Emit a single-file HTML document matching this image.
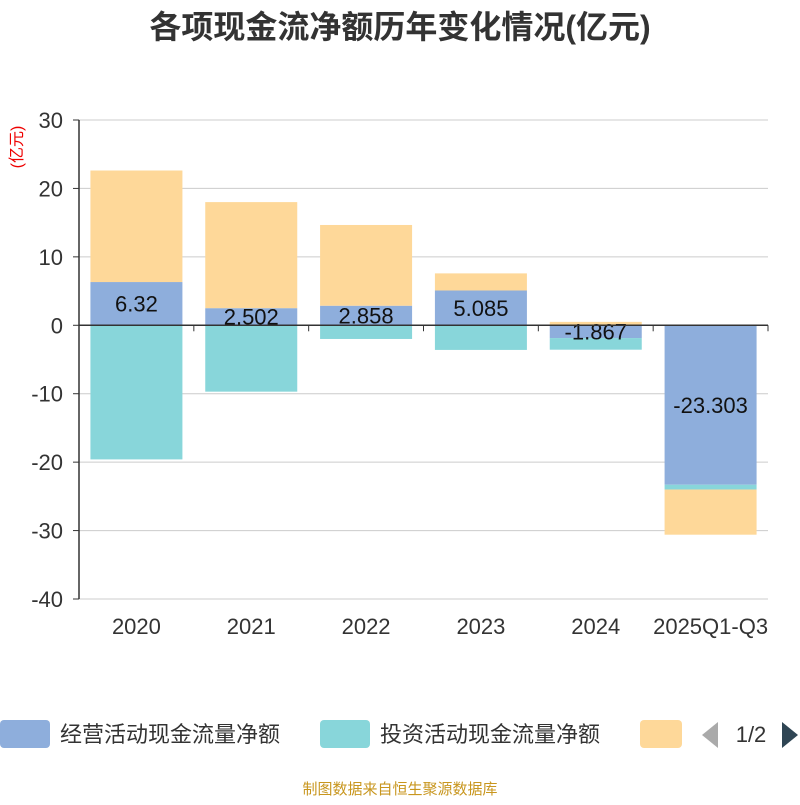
<!DOCTYPE html>
<html><head><meta charset="utf-8"><style>
body{margin:0;background:#fff;width:800px;height:800px;overflow:hidden;font-family:"Liberation Sans","Noto Sans CJK SC",sans-serif}
</style></head><body>
<svg id="chart" width="800" height="800" xmlns="http://www.w3.org/2000/svg" font-family="Liberation Sans, Noto Sans CJK SC, sans-serif">
<text x="400" y="38" text-anchor="middle" font-size="32" font-weight="bold" fill="#333">各项现金流净额历年变化情况(亿元)</text>
<text transform="translate(22,147) rotate(-90)" text-anchor="middle" font-size="16" fill="#e00">(亿元)</text>
<g id="grid"></g><g id="bars"></g><g id="axes"></g>
<g>
<rect x="0" y="720" width="50" height="28" rx="4" fill="#8eaedc"/>
<text x="60" y="742" font-size="22" fill="#333">经营活动现金流量净额</text>
<rect x="320" y="720" width="50" height="28" rx="4" fill="#88d6da"/>
<text x="380" y="742" font-size="22" fill="#333">投资活动现金流量净额</text>
<rect x="640" y="720" width="42" height="28" rx="4" fill="#fed899"/>
<polygon points="718,722 718,748 702,735" fill="#aaa"/>
<text x="751" y="742" text-anchor="middle" font-size="22" fill="#333">1/2</text>
<polygon points="782,722 782,748 798,735" fill="#2f4554"/>
</g>
<text x="400" y="794" text-anchor="middle" font-size="15" fill="#c8961e">制图数据来自恒生聚源数据库</text>
</svg>
<script>
const categories=["2020","2021","2022","2023","2024","2025Q1-Q3"];
const operating=[6.32,2.502,2.858,5.085,-1.867,-23.303];
const investing=[-19.6,-9.7,-2.0,-3.6,-1.7,-0.7];
const financing=[16.3,15.5,11.8,2.5,0.5,-6.6];
const yTicks=[30,20,10,0,-10,-20,-30,-40];
const NS="http://www.w3.org/2000/svg";
const x0=79,x1=768,yTop=120,yBot=599,yMax=30,yMin=-40;
const y=v=>yTop+(yMax-v)/(yMax-yMin)*(yBot-yTop);
const band=(x1-x0)/categories.length;
const cx=i=>x0+band*(i+0.5);
function mk(tag,attrs,parent){const e=document.createElementNS(NS,tag);for(const k in attrs)e.setAttribute(k,attrs[k]);document.getElementById(parent).appendChild(e);return e;}
yTicks.forEach(t=>{
 const l=mk('line',{x1:x0,x2:x1,y1:y(t),y2:y(t),stroke:'#ccc','stroke-width':1},'grid');
 
 
 const tk=mk('line',{x1:x0-6,x2:x0,y1:y(t),y2:y(t),stroke:'#333'},'axes');
 
 
 const tx=mk('text',{x:x0-16,y:y(t)+8,'text-anchor':'end','font-size':22,fill:'#333'},'axes');
 tx.textContent=t;
 
 
});
const series=[{d:operating,c:'#8eaedc',n:'operating'},{d:investing,c:'#88d6da',n:'investing'},{d:financing,c:'#fed899',n:'financing'}];
const bw=92;
categories.forEach((c,i)=>{
 let pos=0,neg=0;
 series.forEach(s=>{
  const v=s.d[i];let a,b;
  if(v>=0){a=pos;b=pos+v;pos=b;}else{a=neg;b=neg+v;neg=b;}
  const top=y(Math.max(a,b)),bot=y(Math.min(a,b));
  const r=mk('rect',{x:cx(i)-bw/2,y:top,width:bw,height:Math.max(bot-top,0.5),fill:s.c},'bars');
  
  
 });
 const v=operating[i];
 const t=mk('text',{x:cx(i),y:y(v/2)+8,'text-anchor':'middle','font-size':22,fill:'#111'},'bars');
 t.textContent=String(v);
 
 
 const xl=mk('text',{x:cx(i),y:634,'text-anchor':'middle','font-size':22,fill:'#333'},'axes');
 xl.textContent=c;
 
 
});
for(let i=0;i<=categories.length;i++){
 const tk=mk('line',{x1:x0+band*i,x2:x0+band*i,y1:y(0),y2:y(0)+6,stroke:'#333'},'axes');
 
 
}
const ya=mk('line',{x1:x0,x2:x0,y1:yTop,y2:yBot,stroke:'#333','stroke-width':1.5},'axes');


const xa=mk('line',{x1:x0,x2:x1,y1:y(0),y2:y(0),stroke:'#333','stroke-width':1.5},'axes');


</script>
</body></html>
